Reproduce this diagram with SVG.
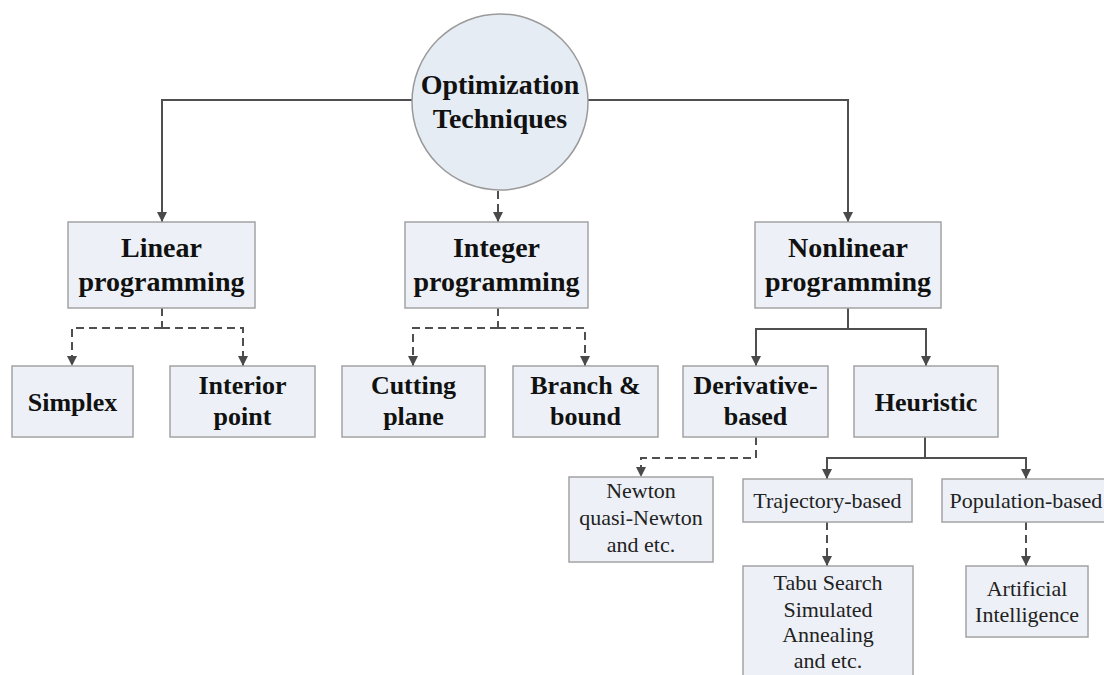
<svg xmlns="http://www.w3.org/2000/svg" width="1104" height="675" viewBox="0 0 1104 675">
  <defs>
    <marker id="arrow" markerUnits="userSpaceOnUse" markerWidth="11" markerHeight="11" refX="10" refY="5" orient="auto">
      <path d="M0,0 L10,5 L0,10 z" fill="#4a4a4a"/>
    </marker>
    <style>
      .box { fill: #edf1f7; stroke: #a3a3a3; stroke-width: 1.5; }
      .hub { fill: #e6ecf4; stroke: #9a9a9a; stroke-width: 1.5; }
      .solid { fill: none; stroke: #4f4f4f; stroke-width: 2; marker-end: url(#arrow); }
      .dash { fill: none; stroke: #4f4f4f; stroke-width: 2; stroke-dasharray: 8 5; marker-end: url(#arrow); }
      .plain { fill: none; stroke: #4f4f4f; stroke-width: 2; }
      .plaindash { fill: none; stroke: #4f4f4f; stroke-width: 2; stroke-dasharray: 8 5; }
      .t1 { font-family: "Liberation Serif", "Times New Roman", serif; font-weight: bold; font-size: 28px; fill: #111; text-anchor: middle; }
      .t2 { font-family: "Liberation Serif", "Times New Roman", serif; font-weight: bold; font-size: 26px; fill: #111; text-anchor: middle; }
      .t3 { font-family: "Liberation Serif", "Times New Roman", serif; font-size: 22px; fill: #222; text-anchor: middle; }
    </style>
  </defs>

  <rect width="1104" height="675" fill="#ffffff"/>

  <!-- connectors -->
  <g id="connectors">
    <path class="solid" d="M412,100 H162 V222"/>
    <path class="solid" d="M588,100 H848 V222"/>
    <path class="dash" d="M498,191 V222"/>

    <path class="plaindash" d="M162,308 V328"/>
    <path class="dash" d="M162,328 H72 V366"/>
    <path class="dash" d="M162,328 H243 V366"/>

    <path class="plaindash" d="M498,308 V328"/>
    <path class="dash" d="M498,328 H413 V366"/>
    <path class="dash" d="M498,328 H585 V366"/>

    <path class="plain" d="M848,308 V329"/>
    <path class="solid" d="M848,329 H756 V366"/>
    <path class="solid" d="M848,329 H926 V366"/>

    <path class="dash" d="M756,437 V458 H641 V477"/>

    <path class="plain" d="M925,437 V458"/>
    <path class="solid" d="M925,458 H827 V479"/>
    <path class="solid" d="M925,458 H1026 V479"/>

    <path class="dash" d="M827,522 V566"/>
    <path class="dash" d="M1026,522 V566"/>
  </g>

  <!-- root -->
  <g id="optimization-techniques">
    <circle class="hub" cx="500" cy="102" r="88"/>
    <text class="t1" x="500" y="94">Optimization</text>
    <text class="t1" x="500" y="128">Techniques</text>
  </g>

  <!-- first level -->
  <g id="linear-programming">
    <rect class="box" x="68" y="222" width="187" height="86"/>
    <text class="t1" x="161.5" y="257">Linear</text>
    <text class="t1" x="161.5" y="291">programming</text>
  </g>
  <g id="integer-programming">
    <rect class="box" x="405" y="222" width="183" height="86"/>
    <text class="t1" x="496.5" y="257">Integer</text>
    <text class="t1" x="496.5" y="291">programming</text>
  </g>
  <g id="nonlinear-programming">
    <rect class="box" x="755" y="222" width="186" height="86"/>
    <text class="t1" x="848" y="257">Nonlinear</text>
    <text class="t1" x="848" y="291">programming</text>
  </g>

  <!-- second level -->
  <g id="simplex">
    <rect class="box" x="12" y="366" width="121" height="71"/>
    <text class="t2" x="72.5" y="411">Simplex</text>
  </g>
  <g id="interior-point">
    <rect class="box" x="170" y="366" width="145" height="71"/>
    <text class="t2" x="242.5" y="394">Interior</text>
    <text class="t2" x="242.5" y="425">point</text>
  </g>
  <g id="cutting-plane">
    <rect class="box" x="342" y="366" width="143" height="71"/>
    <text class="t2" x="413.5" y="394">Cutting</text>
    <text class="t2" x="413.5" y="425">plane</text>
  </g>
  <g id="branch-and-bound">
    <rect class="box" x="513" y="366" width="145" height="71"/>
    <text class="t2" x="585.5" y="394">Branch &amp;</text>
    <text class="t2" x="585.5" y="425">bound</text>
  </g>
  <g id="derivative-based">
    <rect class="box" x="683" y="366" width="145" height="71"/>
    <text class="t2" x="755.5" y="394">Derivative-</text>
    <text class="t2" x="755.5" y="425">based</text>
  </g>
  <g id="heuristic">
    <rect class="box" x="854" y="366" width="144" height="71"/>
    <text class="t2" x="926" y="411">Heuristic</text>
  </g>

  <!-- third level -->
  <g id="newton">
    <rect class="box" x="569" y="477" width="144" height="85"/>
    <text class="t3" x="641" y="498">Newton</text>
    <text class="t3" x="641" y="525">quasi-Newton</text>
    <text class="t3" x="641" y="552">and etc.</text>
  </g>
  <g id="trajectory-based">
    <rect class="box" x="743" y="479" width="169" height="43"/>
    <text class="t3" x="827.5" y="508">Trajectory-based</text>
  </g>
  <g id="population-based">
    <rect class="box" x="942" y="479" width="168" height="43"/>
    <text class="t3" x="1026" y="508">Population-based</text>
  </g>

  <!-- fourth level -->
  <g id="tabu-search">
    <rect class="box" x="743" y="566" width="170" height="120"/>
    <text class="t3" x="828" y="590">Tabu Search</text>
    <text class="t3" x="828" y="617">Simulated</text>
    <text class="t3" x="828" y="642">Annealing</text>
    <text class="t3" x="828" y="668">and etc.</text>
  </g>
  <g id="artificial-intelligence">
    <rect class="box" x="966" y="566" width="122" height="71"/>
    <text class="t3" x="1027" y="596">Artificial</text>
    <text class="t3" x="1027" y="622">Intelligence</text>
  </g>
</svg>
